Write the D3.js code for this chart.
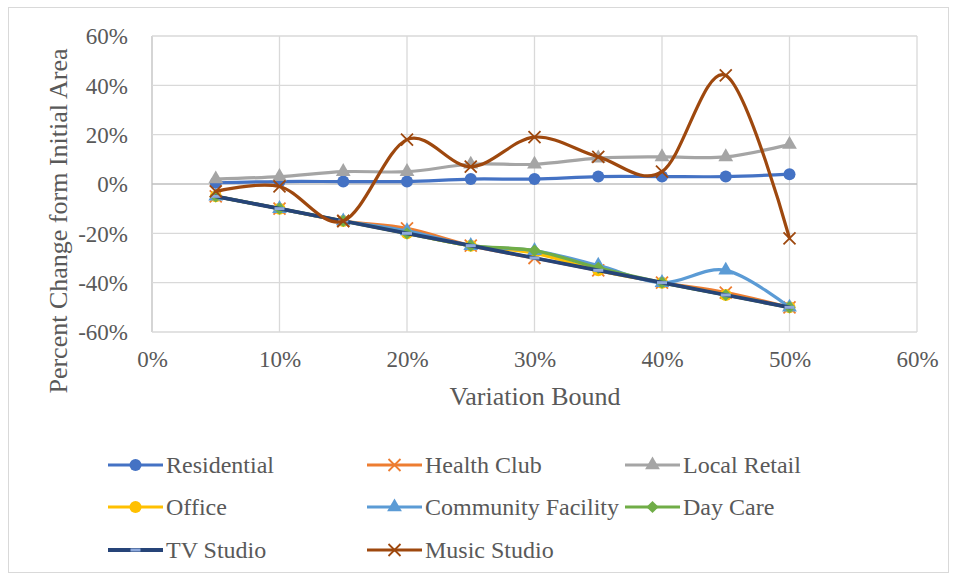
<!DOCTYPE html>
<html>
<head>
<meta charset="utf-8">
<script src="https://cdn.jsdelivr.net/npm/d3@7"></script>
<style>
  body { margin: 0; background: #fff; }
</style>
</head>
<body>
<svg id="chart" width="956" height="579"></svg>
<script>
// x values (variation bound, %) and series values (% change)
const bounds = [5, 10, 15, 20, 25, 30, 35, 40, 45, 50];
const residential = [0.5, 1, 1, 1, 2, 2, 3, 3, 3, 4];
const healthClub = [-5, -10, -15, -18, -25, -30, -35, -40, -44, -50];
const localRetail = [2, 3, 5, 5, 8, 8, 10.5, 11, 11, 16];
const office = [-5, -10, -15, -20, -25, -28, -35, -40, -45, -50];
const communityFacility = [-5, -10, -15, -19, -25, -27, -33, -40, -35, -50];
const dayCare = [-5, -10, -15, -20, -25, -27, -34, -40, -45, -50];
const tvStudio = [-5, -10, -15, -20, -25, -30, -35, -40, -45, -50];
const musicStudio = [-3, -1, -15, 18, 7, 19, 11, 5, 44, -22];

const xTicks = [0, 10, 20, 30, 40, 50, 60];
const yTicks = [-60, -40, -20, 0, 20, 40, 60];

const series = [
  { name: 'Residential', values: residential, color: '#4472C4', marker: 'circle' },
  { name: 'Health Club', values: healthClub, color: '#ED7D31', marker: 'x' },
  { name: 'Local Retail', values: localRetail, color: '#A5A5A5', marker: 'triangle' },
  { name: 'Office', values: office, color: '#FFC000', marker: 'circle' },
  { name: 'Community Facility', values: communityFacility, color: '#5B9BD5', marker: 'triangle' },
  { name: 'Day Care', values: dayCare, color: '#70AD47', marker: 'diamond' },
  { name: 'TV Studio', values: tvStudio, color: '#264478', marker: 'dash' },
  { name: 'Music Studio', values: musicStudio, color: '#9E480E', marker: 'x' }
];

const FONT = '"Liberation Serif", "Times New Roman", serif';
const TEXT = '#595959';

const svg = d3.select('#chart')
  .attr('font-family', FONT);

// chart frame
svg.append('rect')
  .attr('x', 8.5).attr('y', 7.5).attr('width', 940).attr('height', 565)
  .attr('fill', '#fff').attr('stroke', '#D9D9D9').attr('stroke-width', 1);

const x = d3.scaleLinear().domain([0, 60]).range([152, 917]);
const y = d3.scaleLinear().domain([-60, 60]).range([332, 36]);

// gridlines
const grid = svg.append('g');
grid.selectAll('.vg').data(xTicks).join('line')
  .attr('x1', d => x(d)).attr('x2', d => x(d))
  .attr('y1', y(60)).attr('y2', y(-60))
  .attr('stroke', d => d === 0 ? '#BFBFBF' : '#D9D9D9').attr('stroke-width', 1.3);
grid.selectAll('.hg').data(yTicks).join('line')
  .attr('x1', x(0)).attr('x2', x(60))
  .attr('y1', d => y(d)).attr('y2', d => y(d))
  .attr('stroke', d => d === 0 ? '#BFBFBF' : '#D9D9D9').attr('stroke-width', 1.3);

// axes (labels only)
const fmt = d => d + '%';
const yAxis = svg.append('g')
  .attr('transform', `translate(${x(0)},0)`)
  .call(d3.axisLeft(y).tickValues(yTicks).tickFormat(fmt).tickSize(0).tickPadding(24));
yAxis.attr('font-family', FONT).attr('font-size', 23);
yAxis.select('.domain').remove();
yAxis.selectAll('text').attr('fill', TEXT).attr('dy', '0.34em');

const xAxis = svg.append('g')
  .attr('transform', `translate(0,${y(-60)})`)
  .call(d3.axisBottom(x).tickValues(xTicks).tickFormat(fmt).tickSize(0).tickPadding(19));
xAxis.attr('font-family', FONT).attr('font-size', 23);
xAxis.select('.domain').remove();
xAxis.selectAll('text').attr('fill', TEXT);

// axis titles
svg.append('text')
  .attr('x', 535).attr('y', 405)
  .attr('text-anchor', 'middle').attr('font-size', 26).attr('fill', TEXT)
  .text('Variation Bound');
svg.append('text')
  .attr('transform', 'translate(67,221) rotate(-90)')
  .attr('text-anchor', 'middle').attr('font-size', 26).attr('fill', TEXT)
  .text('Percent Change form Initial Area');

function drawMarker(g, type, color) {
  if (type === 'circle') {
    g.append('circle').attr('r', 6).attr('fill', color);
  } else if (type === 'triangle') {
    g.append('path').attr('d', d3.symbol(d3.symbolTriangle, 95)()).attr('fill', color);
  } else if (type === 'diamond') {
    g.append('path').attr('d', d3.symbol(d3.symbolDiamond2, 95)()).attr('fill', color);
  } else if (type === 'x') {
    const r = 6;
    g.append('path').attr('d', `M${-r},${-r}L${r},${r}M${-r},${r}L${r},${-r}`)
      .attr('stroke', color).attr('stroke-width', 1.8).attr('fill', 'none');
  } else if (type === 'dash') {
    g.append('rect').attr('x', -5).attr('y', -1.5).attr('width', 10).attr('height', 3)
      .attr('fill', '#8EA9DB');
  }
}

const smooth = d3.line()
  .x((d, i) => x(bounds[i]))
  .y(d => y(d))
  .curve(d3.curveCatmullRom.alpha(0));
const straight = d3.line()
  .x((d, i) => x(bounds[i]))
  .y(d => y(d));

const plot = svg.append('g');
series.forEach(s => {
  const g = plot.append('g');
  g.append('path')
    .attr('d', s.marker === 'dash' ? straight(s.values) : smooth(s.values))
    .attr('fill', 'none').attr('stroke', s.color)
    .attr('stroke-width', s.name === 'TV Studio' ? 3.8 : 3.2)
    .attr('stroke-linejoin', 'round').attr('stroke-linecap', 'round');
  s.values.forEach((v, i) => {
    const m = g.append('g').attr('transform', `translate(${x(bounds[i])},${y(v)})`);
    drawMarker(m, s.marker, s.color);
  });
});

// legend
const legCols = [108, 367, 625];
const legRows = [465, 507, 550];
const legend = svg.append('g');
series.forEach((s, i) => {
  const lx = legCols[i % 3], ly = legRows[Math.floor(i / 3)];
  const g = legend.append('g').attr('transform', `translate(${lx},${ly})`);
  g.append('line').attr('x1', 0).attr('x2', 55).attr('y1', 0).attr('y2', 0)
    .attr('stroke', s.color).attr('stroke-width', s.name === 'TV Studio' ? 3.8 : 3.2);
  const m = g.append('g').attr('transform', 'translate(27.5,0)');
  drawMarker(m, s.marker, s.color);
  g.append('text').attr('x', 58).attr('y', 0).attr('dy', '0.33em')
    .attr('font-size', 24).attr('fill', TEXT).text(s.name);
});
</script>
</body>
</html>
